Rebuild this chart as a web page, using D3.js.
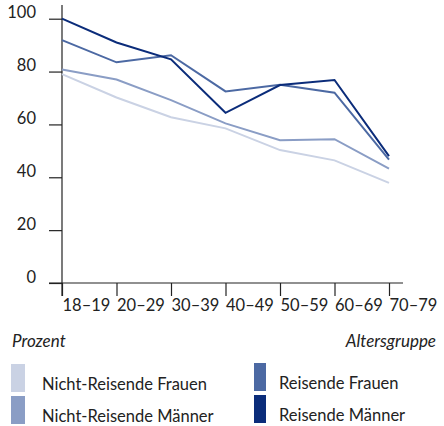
<!DOCTYPE html>
<html>
<head>
<meta charset="utf-8">
<script src="https://cdn.jsdelivr.net/npm/d3@7"></script>
<style>
  body { margin: 0; background: #fff; }
  svg text { font-family: "Lato", "Open Sans", sans-serif; fill: #222; }
</style>
</head>
<body>
<div id="chart"></div>
<script>
// DATA
const ageGroups = ["18–19", "20–29", "30–39", "40–49", "50–59", "60–69", "70–79"];
const nichtReisendeFrauen = [79, 70.2, 62.7, 58.5, 50.3, 46.4, 37.9];
const nichtReisendeMaenner = [80.8, 77, 69.2, 60.4, 54, 54.4, 43.3];
const reisendeFrauen = [91.9, 83.5, 86.2, 72.5, 75, 72, 46.7];
const reisendeMaenner = [100, 91, 84.6, 64.4, 74.9, 76.8, 48];
const yTicks = [0, 20, 40, 60, 80, 100];

const seriesNames = ["Nicht-Reisende Frauen", "Nicht-Reisende Männer", "Reisende Frauen", "Reisende Männer"];
const seriesColors = ["#cad2e4", "#8a9dc5", "#4c69a3", "#0b2c7a"];
const seriesValues = [nichtReisendeFrauen, nichtReisendeMaenner, reisendeFrauen, reisendeMaenner];

const width = 444;
const height = 426;

const svg = d3
  .select("#chart")
  .append("svg")
  .attr("width", width)
  .attr("height", height);

const x = d3.scalePoint().domain(ageGroups).range([62, 389]);
const y = d3.scaleLinear().domain([0, 100]).range([283, 18.7]);

// AXES
const yAxis = svg
  .append("g")
  .attr("transform", "translate(62,0)")
  .call(d3.axisLeft(y).tickValues(yTicks).tickSize(13).tickPadding(13));
yAxis.select(".domain").remove();
yAxis.selectAll(".tick line").attr("stroke", "#222").attr("stroke-width", 1.2);
yAxis
  .selectAll(".tick text")
  .attr("dy", "-0.05em")
  .style("font-size", "16.5px")
  .style("fill", "#222");

svg
  .append("line")
  .attr("x1", 62)
  .attr("x2", 62)
  .attr("y1", 5)
  .attr("y2", 296)
  .attr("stroke", "#222")
  .attr("stroke-width", 1.2);

const xAxis = svg
  .append("g")
  .attr("transform", `translate(0,${y(0)})`)
  .call(d3.axisBottom(x).tickSize(13));
xAxis.select(".domain").remove();
xAxis.selectAll(".tick line").attr("stroke", "#222").attr("stroke-width", 1.2);
xAxis
  .selectAll(".tick text")
  .attr("text-anchor", "start")
  .attr("x", 0)
  .attr("y", 16)
  .style("font-size", "16.5px")
  .style("fill", "#222");

svg
  .append("line")
  .attr("x1", 49)
  .attr("x2", 403)
  .attr("y1", y(0))
  .attr("y2", y(0))
  .attr("stroke", "#222")
  .attr("stroke-width", 1.2);

// LINES
const line = d3
  .line()
  .x((d, i) => x(ageGroups[i]))
  .y((d) => y(d));

svg
  .selectAll("path.series")
  .data(seriesValues)
  .join("path")
  .attr("class", "series")
  .attr("fill", "none")
  .attr("stroke", (d, i) => seriesColors[i])
  .attr("stroke-width", 2)
  .attr("d", line);

// AXIS TITLES
svg
  .append("text")
  .attr("x", 12)
  .attr("y", 347)
  .style("font-size", "17px")
  .style("font-style", "italic")
  .text("Prozent");

svg
  .append("text")
  .attr("x", 436)
  .attr("y", 347)
  .attr("text-anchor", "end")
  .style("font-size", "17px")
  .style("font-style", "italic")
  .text("Altersgruppe");

// LEGEND
const legendPos = [
  [11, 364],
  [11, 396],
  [254, 363],
  [254, 395],
];

const legend = svg
  .selectAll("g.legend")
  .data(seriesNames)
  .join("g")
  .attr("class", "legend")
  .attr("transform", (d, i) => `translate(${legendPos[i][0]},${legendPos[i][1]})`);

legend
  .append("rect")
  .attr("width", (d, i) => (i < 2 ? 14 : 12))
  .attr("height", 28)
  .attr("fill", (d, i) => seriesColors[i]);

legend
  .append("text")
  .attr("x", (d, i) => (i < 2 ? 31 : 25))
  .attr("y", 26)
  .style("font-size", "16.5px")
  .text((d) => d);
</script>
</body>
</html>
